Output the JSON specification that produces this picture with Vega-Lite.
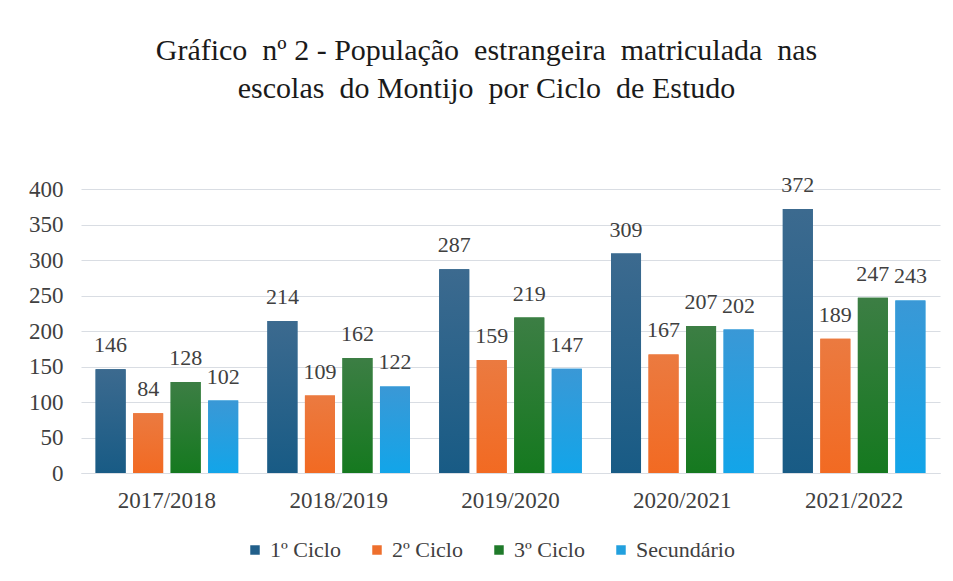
{
  "$schema": "https://vega.github.io/schema/vega-lite/v6.json",
  "width": 859,
  "height": 284,
  "autosize": {"type": "none"},
  "padding": {"left": 81, "top": 189, "right": 13, "bottom": 108},
  "background": "white",
  "title": {
    "text": ["Gráfico\u00a0 nº 2 - População\u00a0 estrangeira\u00a0 matriculada\u00a0 nas", "escolas\u00a0 do Montijo\u00a0 por Ciclo\u00a0 de Estudo"],
    "fontSize": 30,
    "fontWeight": "normal",
    "color": "#1a1a1a",
    "lineHeight": 38,
    "offset": 70,
    "dx": -24,
    "anchor": "middle"
  },
  "data": {
    "values": [
      {"ano": "2017/2018", "ciclo": "1º Ciclo", "valor": 146},
      {"ano": "2017/2018", "ciclo": "2º Ciclo", "valor": 84},
      {"ano": "2017/2018", "ciclo": "3º Ciclo", "valor": 128},
      {"ano": "2017/2018", "ciclo": "Secundário", "valor": 102},
      {"ano": "2018/2019", "ciclo": "1º Ciclo", "valor": 214},
      {"ano": "2018/2019", "ciclo": "2º Ciclo", "valor": 109},
      {"ano": "2018/2019", "ciclo": "3º Ciclo", "valor": 162},
      {"ano": "2018/2019", "ciclo": "Secundário", "valor": 122},
      {"ano": "2019/2020", "ciclo": "1º Ciclo", "valor": 287},
      {"ano": "2019/2020", "ciclo": "2º Ciclo", "valor": 159},
      {"ano": "2019/2020", "ciclo": "3º Ciclo", "valor": 219},
      {"ano": "2019/2020", "ciclo": "Secundário", "valor": 147},
      {"ano": "2020/2021", "ciclo": "1º Ciclo", "valor": 309},
      {"ano": "2020/2021", "ciclo": "2º Ciclo", "valor": 167},
      {"ano": "2020/2021", "ciclo": "3º Ciclo", "valor": 207},
      {"ano": "2020/2021", "ciclo": "Secundário", "valor": 202},
      {"ano": "2021/2022", "ciclo": "1º Ciclo", "valor": 372},
      {"ano": "2021/2022", "ciclo": "2º Ciclo", "valor": 189},
      {"ano": "2021/2022", "ciclo": "3º Ciclo", "valor": 247},
      {"ano": "2021/2022", "ciclo": "Secundário", "valor": 243}
    ]
  },
  "encoding": {
    "x": {
      "field": "ano", "type": "nominal", "title": null,
      "scale": {"paddingInner": 0.17, "paddingOuter": 0.085},
      "axis": {"labelAngle": 0, "labelFontSize": 23, "labelColor": "#404040", "ticks": false, "domain": true, "domainColor": "#d9dde3", "labelPadding": 16}
    },
    "xOffset": {"field": "ciclo", "type": "nominal", "scale": {"domain": ["1º Ciclo", "2º Ciclo", "3º Ciclo", "Secundário"], "paddingInner": 0.2, "paddingOuter": 0}},
    "y": {
      "field": "valor", "type": "quantitative", "title": null,
      "scale": {"domain": [0, 400]},
      "axis": {"values": [0, 50, 100, 150, 200, 250, 300, 350, 400], "labelFontSize": 23, "labelColor": "#404040", "ticks": false, "domain": false, "gridColor": "#d9dde3", "gridWidth": 1.2, "labelPadding": 18}
    }
  },
  "layer": [
    {
      "mark": {"type": "bar"},
      "encoding": {
        "color": {
          "field": "ciclo", "type": "nominal",
          "scale": {"domain": ["1º Ciclo", "2º Ciclo", "3º Ciclo", "Secundário"], "range": ["#215f8a", "#ee6f2d", "#1f7a2a", "#22a0de"]},
          "legend": {"title": null, "orient": "none", "legendX": 163, "legendY": 350, "direction": "horizontal", "symbolType": "square", "symbolSize": 90, "symbolStrokeWidth": 0, "labelFontSize": 22, "labelColor": "#404040", "columnPadding": 25, "labelOffset": 4}
        }
      }
    },
    {
      "transform": [{"filter": "datum.ciclo === '1º Ciclo'"}],
      "mark": {"type": "bar", "color": {"gradient": "linear", "x1": 0, "y1": 0, "x2": 0, "y2": 1, "stops": [{"offset": 0, "color": "#3c6a8f"}, {"offset": 1, "color": "#185b85"}]}}
    },
    {
      "transform": [{"filter": "datum.ciclo === '2º Ciclo'"}],
      "mark": {"type": "bar", "color": {"gradient": "linear", "x1": 0, "y1": 0, "x2": 0, "y2": 1, "stops": [{"offset": 0, "color": "#eb7a40"}, {"offset": 1, "color": "#f26a22"}]}}
    },
    {
      "transform": [{"filter": "datum.ciclo === '3º Ciclo'"}],
      "mark": {"type": "bar", "color": {"gradient": "linear", "x1": 0, "y1": 0, "x2": 0, "y2": 1, "stops": [{"offset": 0, "color": "#3c7e44"}, {"offset": 1, "color": "#15791f"}]}}
    },
    {
      "transform": [{"filter": "datum.ciclo === 'Secundário'"}],
      "mark": {"type": "bar", "color": {"gradient": "linear", "x1": 0, "y1": 0, "x2": 0, "y2": 1, "stops": [{"offset": 0, "color": "#3a98d6"}, {"offset": 1, "color": "#12a5e9"}]}}
    },
    {
      "mark": {"type": "text", "baseline": "alphabetic", "dy": -17, "fontSize": 22, "color": "#404040"},
      "encoding": {"text": {"field": "valor", "type": "quantitative"}}
    }
  ],
  "config": {"view": {"stroke": null}, "font": "Liberation Serif"}
}
